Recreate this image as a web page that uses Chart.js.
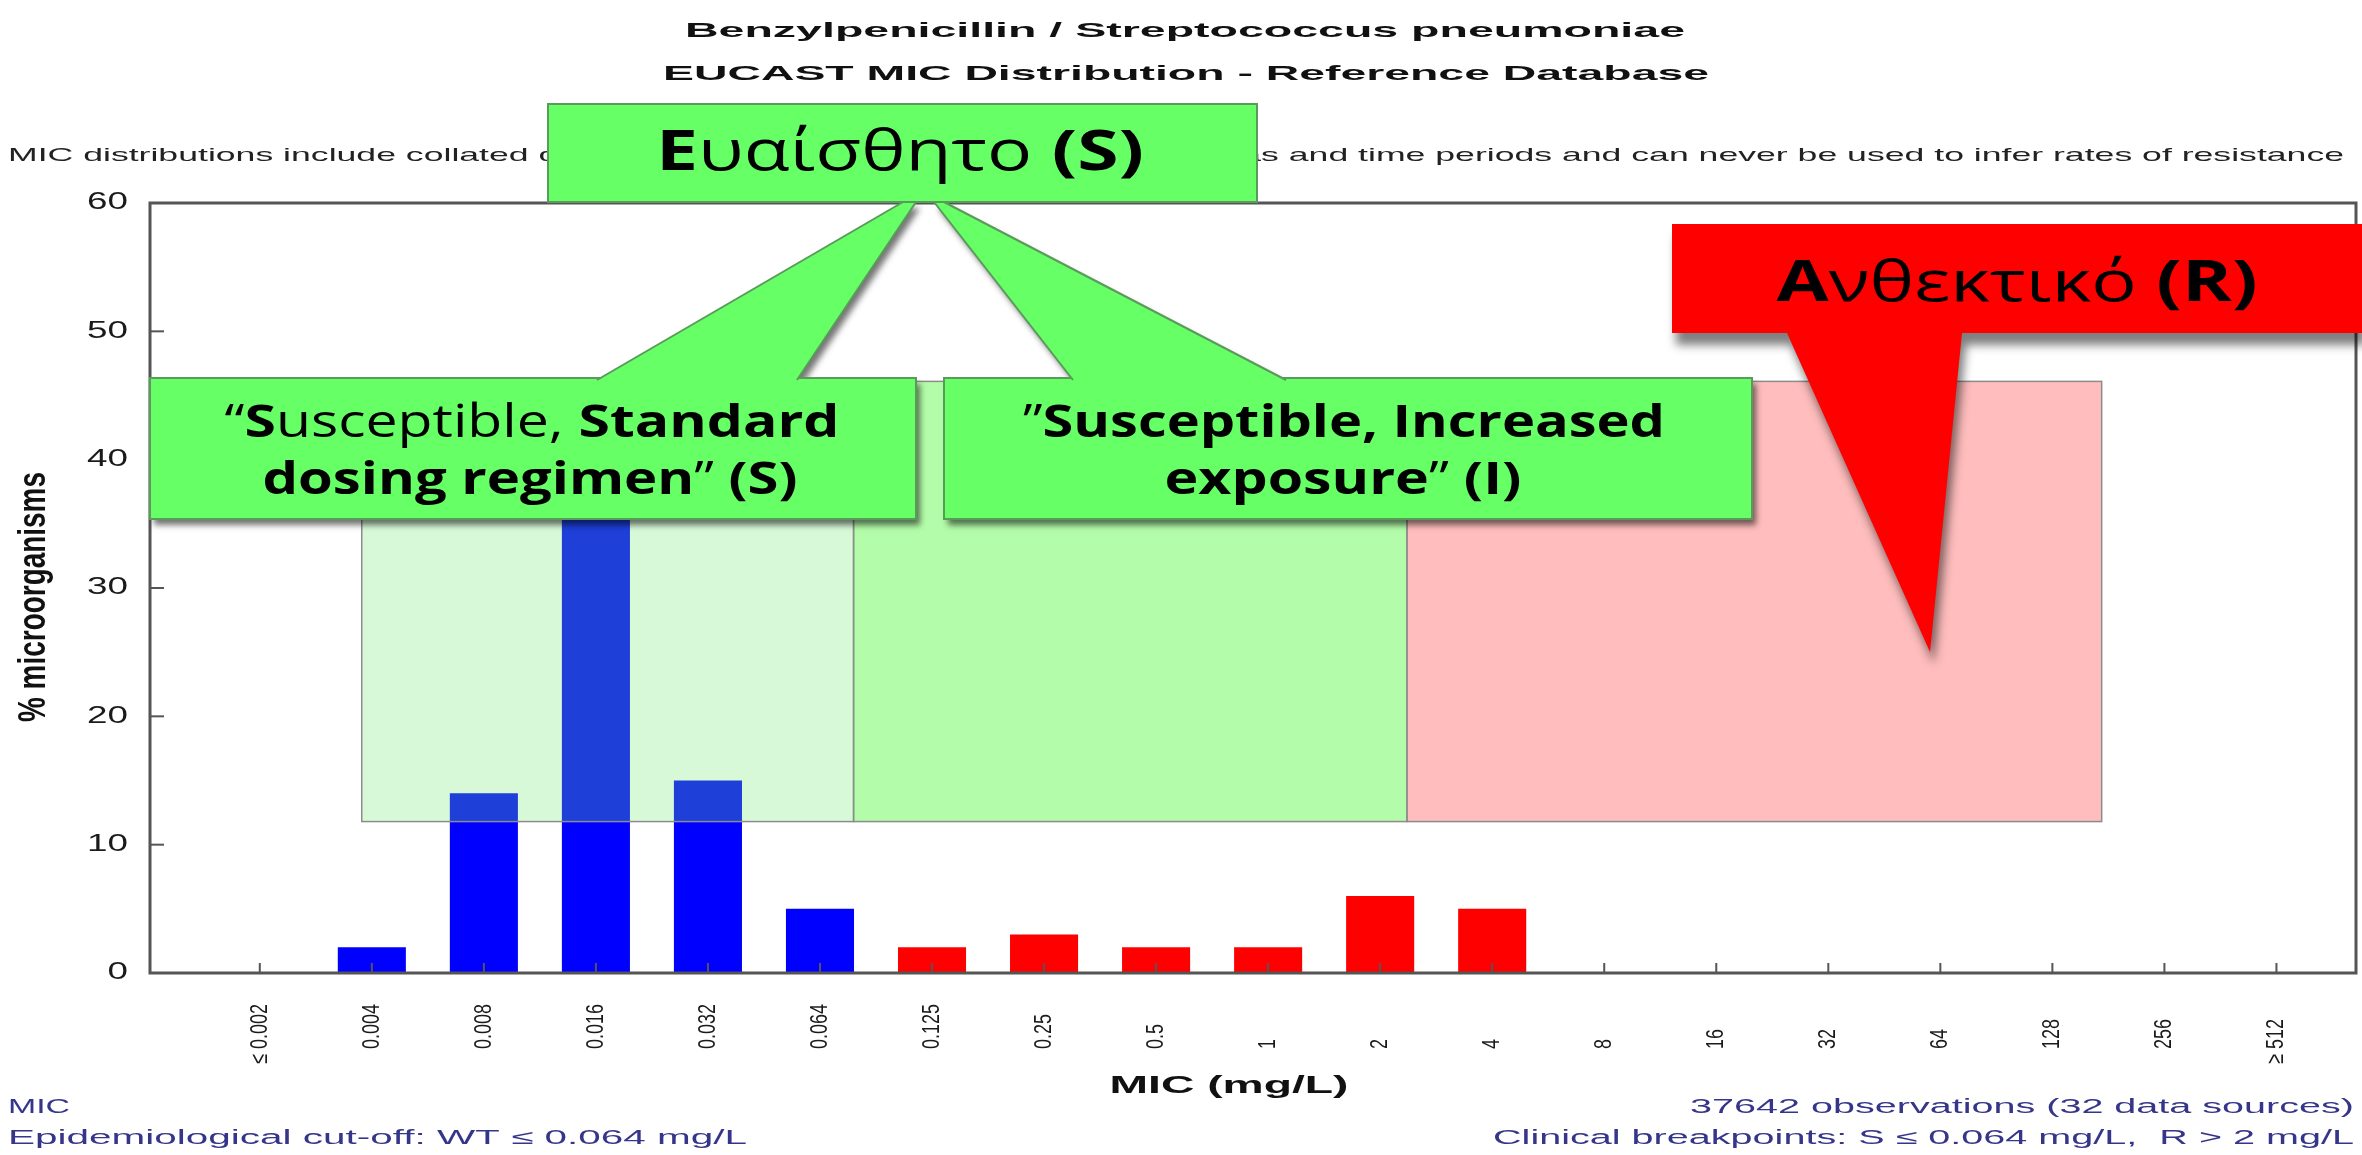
<!DOCTYPE html>
<html>
<head>
<meta charset="utf-8">
<title>Benzylpenicillin / Streptococcus pneumoniae</title>
<script src="https://cdn.jsdelivr.net/npm/chart.js@4.4.0/dist/chart.umd.min.js"></script>
<style>
  html, body { margin: 0; padding: 0; background: #fff; }
  #micChart { display: block; }
</style>
</head>
<body>
<canvas id="micChart" width="2362" height="1155"></canvas>
<script>
// MIC classes and % of isolates
const micLabels = ['≤ 0.002', '0.004', '0.008', '0.016', '0.032', '0.064', '0.125', '0.25', '0.5',
  '1', '2', '4', '8', '16', '32', '64', '128', '256', '≥ 512'];
const pctValues = [0, 2, 14, 44, 15, 5, 2, 3, 2, 2, 6, 5, 0, 0, 0, 0, 0, 0, 0];
const yTicks = [0, 10, 20, 30, 40, 50, 60];
const ecoffLabel = '0.064';

// shaded zones (x in MIC class index, y in %)
const zoneFrom = [0.91, 5.30, 10.24];
const zoneTo = [5.30, 10.24, 16.44];
const zoneBottom = 11.8;
const zoneTop = 46.1;

const ARIAL = "'Liberation Sans', Arial, sans-serif";
const CAL = "'Open Sans', 'Noto Sans', sans-serif";
const NAVY = '#35358a';

// draws a list of [text, weight] runs, stretched to a given length
function drawRuns(c, runs, x, y, o) {
  c.save();
  c.fillStyle = o.color || '#000';
  c.textBaseline = o.base || 'alphabetic';
  c.textAlign = 'left';
  const fam = o.family || ARIAL;
  const widths = runs.map(r => {
    c.font = r[1] + ' ' + o.size + 'px ' + fam;
    return c.measureText(r[0]).width;
  });
  const total = widths.reduce((s, w) => s + w, 0);
  const sx = o.len ? o.len / total : (o.sx || 1);
  c.translate(x, y);
  if (o.rot) c.rotate(o.rot);
  c.scale(sx, o.sy || 1);
  let pos = o.align === 'center' ? -total / 2 : o.align === 'right' ? -total : 0;
  runs.forEach((r, i) => {
    c.font = r[1] + ' ' + o.size + 'px ' + fam;
    c.fillText(r[0], pos, 0);
    pos += widths[i];
  });
  c.restore();
}

function txt(c, s, x, y, o) { drawRuns(c, [[s, o.weight || 'normal']], x, y, o); }

const zoneFill = ['rgba(111,233,111,0.27)', 'rgba(103,249,83,0.5)', 'rgba(255,123,123,0.5)'];

const decor = {
  id: 'decor',
  beforeDraw(chart) {
    const c = chart.ctx;
    c.save();
    c.fillStyle = '#fff';
    c.fillRect(0, 0, chart.width, chart.height);
    c.restore();
  },
  afterDraw(chart) {
    const c = chart.ctx, xs = chart.scales.x, ys = chart.scales.y, a = chart.chartArea;

    // zones over the bars
    c.save();
    zoneFrom.forEach((f, i) => {
      const x0 = xs.getPixelForValue(f), x1 = xs.getPixelForValue(zoneTo[i]);
      const y0 = ys.getPixelForValue(zoneTop), y1 = ys.getPixelForValue(zoneBottom);
      c.fillStyle = zoneFill[i];
      c.fillRect(x0, y0, x1 - x0, y1 - y0);
      c.strokeStyle = '#8c8c8c';
      c.lineWidth = 1.5;
      c.strokeRect(x0, y0, x1 - x0, y1 - y0);
    });

    // frame and inner ticks
    c.strokeStyle = '#555';
    c.lineWidth = 3;
    c.strokeRect(a.left, a.top, a.right - a.left, a.bottom - a.top);
    c.lineWidth = 2;
    yTicks.forEach(v => {
      const y = ys.getPixelForValue(v);
      c.beginPath(); c.moveTo(a.left, y); c.lineTo(a.left + 14, y); c.stroke();
      txt(c, String(v), a.left - 22, y, { size: 23, sx: 1.6, align: 'right', base: 'middle', color: '#1a1a1a' });
    });
    micLabels.forEach((lab, i) => {
      const x = xs.getPixelForValue(i);
      c.beginPath(); c.moveTo(x, a.bottom); c.lineTo(x, a.bottom - 10); c.stroke();
      const m = lab.match(/^([≤≥] )(.*)$/);
      let off = 0;
      if (m) { c.font = '18px ' + ARIAL; off = c.measureText(m[1]).width; }
      txt(c, lab, x, a.bottom + 76 + off, { size: 18, rot: -Math.PI / 2, sy: 1.35, base: 'middle', color: '#1a1a1a' });
    });
    c.restore();

    // titles and notes
    txt(c, 'Benzylpenicillin / Streptococcus pneumoniae', 1185, 37, { size: 21, weight: 'bold', len: 1000, align: 'center', color: '#111' });
    txt(c, 'EUCAST MIC Distribution - Reference Database', 1186, 80, { size: 21, weight: 'bold', len: 1046, align: 'center', color: '#111' });
    txt(c, 'MIC distributions include collated data from multiple sources, geographical areas and time periods and can never be used to infer rates of resistance',
      8, 161, { size: 19, len: 2336, color: '#222' });
    txt(c, '% microorganisms', 34, 597, { size: 24, weight: 'bold', rot: -Math.PI / 2, len: 250, sy: 1.6, align: 'center', base: 'middle', color: '#111' });
    txt(c, 'MIC (mg/L)', 1229, 1093, { size: 23, weight: 'bold', len: 239, align: 'center', color: '#111' });
    txt(c, 'MIC', 8, 1113, { size: 20, len: 62, color: NAVY });
    txt(c, 'Epidemiological cut-off: WT ≤ 0.064 mg/L', 8, 1144, { size: 20, len: 739, color: NAVY });
    txt(c, '37642 observations (32 data sources)', 2354, 1113, { size: 20, len: 664, align: 'right', color: NAVY });
    txt(c, 'Clinical breakpoints: S ≤ 0.064 mg/L,  R > 2 mg/L', 2354, 1144, { size: 20, len: 861, align: 'right', color: NAVY });

    // callouts
    const GREEN = '#66ff66', EDGE = '#5a9a5a';
    const boxes = [[150, 378, 766, 141], [944, 378, 808, 141]];
    const tails = [
      [[903, 202], [916, 202], [797, 380], [597, 380]],
      [[934, 202], [944, 202], [1286, 380], [1073, 380]]
    ];
    const poly = pts => { c.beginPath(); pts.forEach((p, k) => k ? c.lineTo(p[0], p[1]) : c.moveTo(p[0], p[1])); c.closePath(); };
    c.save();
    c.shadowColor = 'rgba(0,0,0,0.55)';
    c.shadowBlur = 6; c.shadowOffsetX = 4; c.shadowOffsetY = 6;
    c.fillStyle = GREEN;
    tails.forEach(t => { poly(t); c.fill(); });
    boxes.forEach(b => { c.fillRect(b[0], b[1], b[2], b[3]); });
    c.restore();
    c.save();
    c.strokeStyle = EDGE; c.lineWidth = 2;
    boxes.forEach(b => { c.strokeRect(b[0], b[1], b[2], b[3]); });
    c.fillStyle = GREEN;
    tails.forEach(t => {
      poly(t); c.fill();
      c.beginPath(); c.moveTo(t[0][0], t[0][1]); c.lineTo(t[3][0], t[3][1]); c.stroke();
      c.beginPath(); c.moveTo(t[1][0], t[1][1]); c.lineTo(t[2][0], t[2][1]); c.stroke();
    });
    c.fillRect(548, 104, 709, 98);
    c.strokeRect(548, 104, 709, 98);
    c.restore();

    // red callout
    c.save();
    c.shadowColor = 'rgba(0,0,0,0.5)';
    c.shadowBlur = 10; c.shadowOffsetX = 4; c.shadowOffsetY = 12;
    c.fillStyle = '#ff0000';
    poly([[1672, 224], [2362, 224], [2362, 333], [1962, 333], [1930, 652], [1787, 333], [1672, 333]]);
    c.fill();
    c.restore();

    const big = { family: CAL, align: 'center', color: '#000' };
    drawRuns(c, [['Ε', 'bold'], ['υαίσθητο', 'normal'], [' (S)', 'bold']], 900, 170, Object.assign({ size: 56, len: 488 }, big));
    drawRuns(c, [['“', 'normal'], ['S', 'bold'], ['usceptible, ', 'normal'], ['Standard', 'bold']], 532, 437, Object.assign({ size: 45, len: 615 }, big));
    drawRuns(c, [['dosing regimen', 'bold'], ['” ', 'normal'], ['(S)', 'bold']], 530, 494, Object.assign({ size: 45, len: 535 }, big));
    drawRuns(c, [['”', 'normal'], ['Susceptible, Increased', 'bold']], 1344, 437, Object.assign({ size: 45, len: 642 }, big));
    drawRuns(c, [['exposure', 'bold'], ['” ', 'normal'], ['(I)', 'bold']], 1343, 494, Object.assign({ size: 45, len: 357 }, big));
    drawRuns(c, [['Α', 'bold'], ['νθεκτικό', 'normal'], [' (R)', 'bold']], 2017, 301, Object.assign({ size: 57, len: 481 }, big));
  }
};

const ecoffIndex = micLabels.indexOf(ecoffLabel);
const ctx = document.getElementById('micChart').getContext('2d');
const micChart = new Chart(ctx, {
  type: 'bar',
  data: {
    datasets: [{
      data: pctValues.map((v, i) => ({ x: i, y: v })),
      backgroundColor: pctValues.map((v, i) => i <= ecoffIndex ? '#0000ff' : '#ff0000'),
      borderWidth: 0,
      barPercentage: 0.62,
      categoryPercentage: 1.0
    }]
  },
  options: {
    responsive: false,
    animation: false,
    devicePixelRatio: 1,
    layout: { padding: { left: 150, top: 203, right: 6, bottom: 182 } },
    plugins: { legend: { display: false }, tooltip: { enabled: false } },
    scales: {
      x: { type: 'linear', offset: false, min: -0.98, max: 18.71, display: false },
      y: { min: 0, max: 60, display: false }
    }
  },
  plugins: [decor]
});
</script>
</body>
</html>
